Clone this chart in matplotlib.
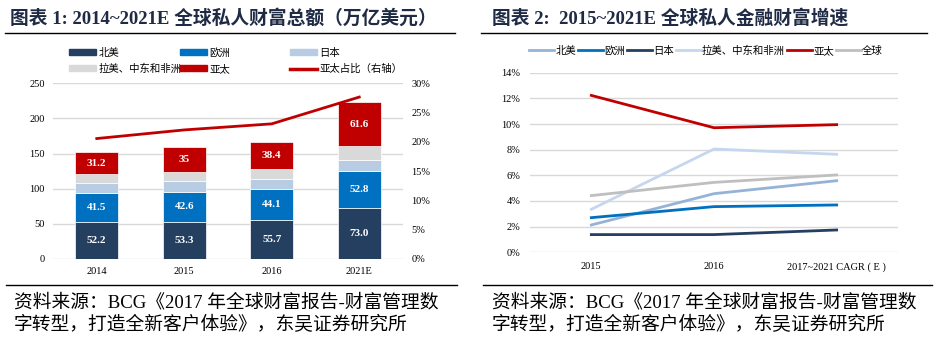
import numpy as np
import matplotlib.pyplot as plt
from matplotlib.lines import Line2D
from matplotlib.patches import Patch

plt.rcParams['font.family'] = ['Liberation Serif', 'Noto Sans CJK SC']

# 图表1 数据
years = ['2014', '2015', '2016', '2021E']
na = np.array([52.2, 53.3, 55.7, 73.0])
eu = np.array([41.5, 42.6, 44.1, 52.8])
jp = np.array([14.8, 15.5, 14.5, 15.0])
latam = np.array([12.0, 12.4, 13.7, 20.4])
apac = np.array([31.2, 35.0, 38.4, 61.6])
na_labels = ['52.2', '53.3', '55.7', '73.0']
eu_labels = ['41.5', '42.6', '44.1', '52.8']
apac_labels = ['31.2', '35', '38.4', '61.6']

# 图表2 数据
periods = ['2015', '2016', '2017~2021 CAGR ( E )']
g_na = [2.13, 4.57, 5.58]
g_eu = [2.70, 3.56, 3.69]
g_jp = [1.38, 1.38, 1.74]
g_latam = [3.35, 8.05, 7.64]
g_apac = [12.23, 9.71, 9.95]
g_world = [4.42, 5.45, 6.03]

c_na = '#243F60'
c_eu = '#0070C0'
c_jp = '#B8CCE4'
c_latam = '#D9D9D9'
c_apac = '#C00000'
grid_c = '#D9D9D9'
title_c = '#1F2A44'
cjk = ['Noto Sans CJK SC', 'DejaVu Sans']

fig = plt.figure(figsize=(9.41, 3.44), dpi=100)

# 标题与分隔线
fig.text(10 / 941, 1 - 18 / 344, '图表 1: 2014~2021E 全球私人财富总额（万亿美元）',
         fontsize=13.5, fontweight='bold', color=title_c, va='center')
fig.text(492 / 941, 1 - 18 / 344, '图表 2:  2015~2021E 全球私人金融财富增速',
         fontsize=13.5, fontweight='bold', color=title_c, va='center')
for x0, x1 in [(5, 455), (481, 927)]:
    fig.add_artist(Line2D([x0 / 941, x1 / 941], [1 - 33 / 344] * 2, color='black', lw=1))
for x0, x1 in [(6, 457), (483, 932)]:
    fig.add_artist(Line2D([x0 / 941, x1 / 941], [1 - 285 / 344] * 2, color='black', lw=1))

src1 = '资料来源：BCG《2017 年全球财富报告-财富管理数'
src2 = '字转型，打造全新客户体验》，东吴证券研究所'
for x in [14 / 941, 492 / 941]:
    fig.text(x, 1 - 302 / 344, src1, fontsize=13.5, va='center')
    fig.text(x, 1 - 325 / 344, src2, fontsize=13.5, va='center')

# 图表1: 堆积柱状图
ax1 = fig.add_axes([53 / 941, 1 - 259 / 344, 350 / 941, 175.7 / 344])
x = np.arange(len(years))
w = 0.49
bottom = np.zeros(len(years))
for vals, col in [(na, c_na), (eu, c_eu), (jp, c_jp), (latam, c_latam), (apac, c_apac)]:
    ax1.bar(x, vals, w, bottom=bottom, color=col, edgecolor='white', linewidth=0.5, zorder=3)
    bottom = bottom + vals
for i in range(len(years)):
    ax1.text(x[i], na[i] / 2, na_labels[i], ha='center', va='center',
             color='white', fontsize=8, fontweight='bold', zorder=4)
    ax1.text(x[i], na[i] + eu[i] / 2, eu_labels[i], ha='center', va='center',
             color='white', fontsize=8, fontweight='bold', zorder=4)
    b = na[i] + eu[i] + jp[i] + latam[i]
    ax1.text(x[i], b + apac[i] / 2, apac_labels[i], ha='center', va='center',
             color='white', fontsize=8, fontweight='bold', zorder=4)
ax1.set_xlim(-0.5, len(years) - 0.5)
ax1.set_ylim(0, 250)
ax1.set_yticks(np.arange(0, 251, 50))
ax1.yaxis.grid(True, color=grid_c, lw=1, zorder=0)
ax1.set_xticks(x)
ax1.set_xticklabels(years)
ax1.tick_params(length=0, labelsize=7.5, pad=6)
for s in ax1.spines.values():
    s.set_visible(False)

share = apac / bottom * 100
ax1r = ax1.twinx()
ax1r.plot(x, share, color=c_apac, lw=2, zorder=5)
ax1r.set_ylim(0, 30)
ax1r.set_yticks(np.arange(0, 31, 5))
ax1r.set_yticklabels([f'{v}%' for v in range(0, 31, 5)])
ax1r.tick_params(length=0, labelsize=7.5, pad=6)
for s in ax1r.spines.values():
    s.set_visible(False)

# 图例按列分别放置，列间距固定
legend_cols = [
    ([Patch(color=c_na), Patch(color=c_latam)], ['北美', '拉美、中东和非洲'], 60),
    ([Patch(color=c_eu), Patch(color=c_apac)], ['欧洲', '亚太'], 171),
    ([Patch(color=c_jp), Line2D([], [], color=c_apac, lw=2.5)], ['日本', '亚太占比（右轴）'], 281),
]
for hs, ls, xpos in legend_cols:
    fig.legend(hs, ls, loc='center left', bbox_to_anchor=(xpos / 941, 1 - 61 / 344),
               frameon=False, prop={'family': cjk, 'size': 7.5}, handlelength=2.6,
               handleheight=0.5, handletextpad=0.2, labelspacing=0.55)

# 图表2: 增速折线图
ax2 = fig.add_axes([530 / 941, 1 - 252.3 / 344, 368 / 941, 179.6 / 344])
xp = np.arange(len(periods))
series2 = [(g_na, '#95B3D7', '北美'), (g_eu, c_eu, '欧洲'), (g_jp, c_na, '日本'),
           (g_latam, '#C5D7EE', '拉美、中东和非洲'), (g_apac, c_apac, '亚太'),
           (g_world, '#BFBFBF', '全球')]
for vals, col, lab in series2:
    ax2.plot(xp, vals, color=col, lw=2, label=lab, zorder=3)
ax2.set_xlim(-0.5, len(periods) - 0.5)
ax2.set_ylim(0, 14)
ax2.set_yticks(np.arange(0, 15, 2))
ax2.set_yticklabels([f'{v}%' for v in range(0, 15, 2)])
ax2.yaxis.grid(True, color=grid_c, lw=1, zorder=0)
ax2.set_xticks(xp)
ax2.set_xticklabels(periods)
ax2.tick_params(length=0, labelsize=7.5, pad=7)
for s in ax2.spines.values():
    s.set_visible(False)
fig.legend(*ax2.get_legend_handles_labels(), ncol=6, loc='center',
           bbox_to_anchor=(706 / 941, 1 - 51 / 344), frameon=False,
           prop={'family': cjk, 'size': 7.5}, handlelength=2.4, columnspacing=0.2,
           handletextpad=0.1)

fig.savefig('out.png', dpi=100)
